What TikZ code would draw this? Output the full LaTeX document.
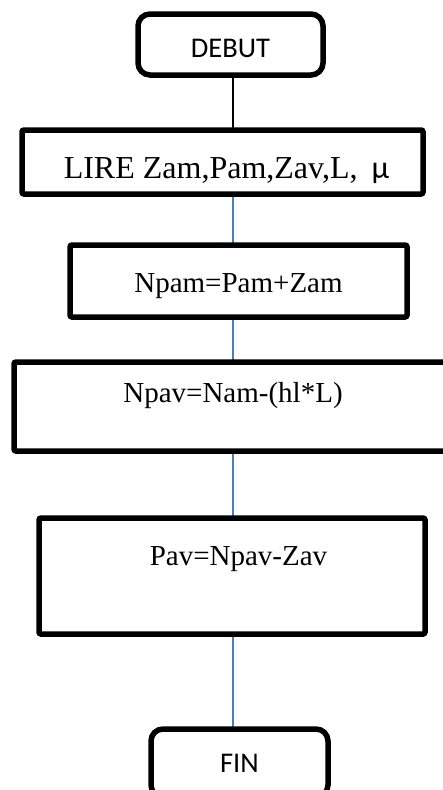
\documentclass[tikz,border=0pt]{standalone}
\usepackage{fontspec}
\setmainfont{Liberation Serif}
\newfontfamily\calib{Carlito}
\usetikzlibrary{backgrounds}
\definecolor{linkblue}{HTML}{4A7EBB}
\begin{document}
\begin{tikzpicture}[x=1pt,y=-1pt,
  box/.style={draw=black, line width=5.5pt, rounded corners=2pt, fill=white,
    inner sep=0pt, outer sep=0pt, anchor=north west},
  term/.style={box, rounded corners=12pt, font=\calib\fontsize{28.5}{28.5}\selectfont},
  proc/.style={box, font=\fontsize{29}{29}\selectfont},
  blueline/.style={draw=linkblue, line width=1.5pt},
  blackline/.style={draw=black, line width=1.2pt}]
\useasboundingbox (0,0) rectangle (443,790);
\coordinate (ax) at (233,0);

\node[term, minimum width=185pt, minimum height=61pt, text height=43pt, text depth=18pt] (debut) at (138,14) {DEBUT};
\node[proc, font=\fontsize{32}{32}\selectfont, minimum width=401pt, minimum height=64pt, text height=48pt, text depth=16pt] (lire) at (22,130) {\hspace*{8pt}LIRE Zam,Pam,Zav,L,\hspace{14pt}{\calib μ}};
\node[proc, minimum width=337pt, minimum height=72pt, text height=47pt, text depth=25pt] (npam) at (70,245) {Npam=Pam+Zam};
\node[proc, minimum width=438pt, minimum height=89pt, text height=40pt, text depth=49pt] (npav) at (14,362) {Npav=Nam-(hl*L)};
\node[proc, minimum width=386pt, minimum height=116pt, text height=47pt, text depth=69pt] (pav) at (39,518) {\hspace*{13pt}Pav=Npav-Zav};
\node[term, minimum width=177pt, minimum height=68pt, text height=43pt, text depth=25pt] (fin) at (151,729) {FIN};

\begin{scope}[on background layer]
\draw[blackline] (debut.south -| ax) -- (lire.north -| ax);
\draw[blueline] (lire.south -| ax) -- (npam.north -| ax);
\draw[blueline] (npam.south -| ax) -- (npav.north -| ax);
\draw[blueline] (npav.south -| ax) -- (pav.north -| ax);
\draw[blueline] (pav.south -| ax) -- (fin.north -| ax);
\end{scope}
\end{tikzpicture}
\end{document}
